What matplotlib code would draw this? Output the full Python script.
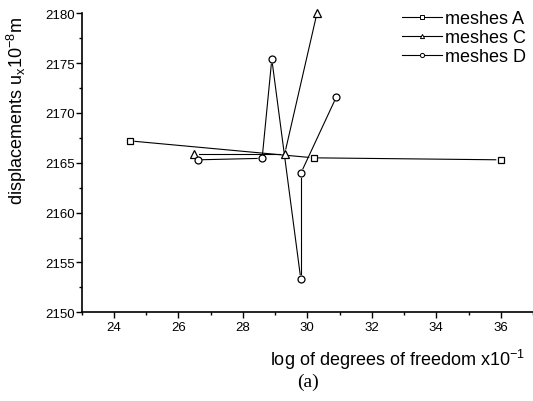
import numpy as np
import matplotlib.pyplot as plt
from matplotlib.ticker import MultipleLocator

plt.rcParams['font.family'] = ['Liberation Sans', 'DejaVu Sans']
plt.rcParams['mathtext.fontset'] = 'custom'
plt.rcParams['mathtext.rm'] = 'Liberation Sans'
plt.rcParams['mathtext.it'] = 'Liberation Sans'

# mesh refinement results
dof_A = [24.5, 30.2, 36.0]
ux_A = [2167.2, 2165.5, 2165.3]

dof_C = [26.5, 29.3, 30.3]
ux_C = [2165.9, 2165.9, 2180.0]

dof_D = [26.6, 28.6, 28.9, 29.8, 29.8, 30.9]
ux_D = [2165.3, 2165.45, 2175.4, 2153.3, 2163.95, 2171.6]

series = [
    ('meshes A', dof_A, ux_A, 's', 5),
    ('meshes C', dof_C, ux_C, '^', 6),
    ('meshes D', dof_D, ux_D, 'o', 5),
]

fig = plt.figure(figsize=(5.33, 4.02), dpi=100)
ax = fig.add_axes([0.153, 0.2206, 0.847, 0.7438])
ax.set_xlim(23, 37)
ax.set_ylim(2150, 2180)

for side in ['top', 'right']:
    ax.spines[side].set_visible(False)
ax.spines['left'].set_linewidth(1.2)
ax.spines['bottom'].set_linewidth(1.2)

ax.xaxis.set_major_locator(MultipleLocator(2))
ax.xaxis.set_minor_locator(MultipleLocator(1))
ax.yaxis.set_major_locator(MultipleLocator(5))
ax.yaxis.set_minor_locator(MultipleLocator(2.5))
ax.tick_params(which='major', direction='out', length=4, width=1, labelsize=9.5)
ax.tick_params(which='minor', direction='out', length=2.5, width=1)
ax.tick_params(axis='y', pad=1)
ax.tick_params(axis='x', pad=2)

# Origin style: connecting lines stop short of the markers
gap = 5.0
fig.canvas.draw()
to_px = ax.transData
to_data = ax.transData.inverted()
for label, xs, ys, mk, ms in series:
    pts = to_px.transform(np.column_stack([xs, ys]))
    for p0, p1 in zip(pts[:-1], pts[1:]):
        d = p1 - p0
        n = np.hypot(*d)
        if n <= 2 * gap:
            continue
        u = d / n
        seg = to_data.transform(np.array([p0 + u * gap, p1 - u * gap]))
        ax.plot(seg[:, 0], seg[:, 1], color='black', lw=0.8)
    ax.plot(xs, ys, linestyle='none', marker=mk, markersize=ms,
            markerfacecolor='white', markeredgecolor='black',
            markeredgewidth=0.9, clip_on=False, zorder=3)

# legend proxies with small markers
handles = [plt.Line2D([], [], color='black', lw=0.8, marker=mk, markersize=3,
                      markerfacecolor='white', markeredgewidth=0.7)
           for _, _, _, mk, _ in series]
ax.legend(handles, [s[0] for s in series], loc='upper right',
          bbox_to_anchor=(1.0, 1.035), frameon=False, fontsize=13,
          handlelength=2.2, handletextpad=0.15, labelspacing=0.12,
          borderaxespad=0.0)

fig.text(17 / 533, 1 - 111 / 402,
         r'displacements u$_\mathregular{x}$10$^\mathregular{-8}$m',
         rotation=90, ha='center', va='center', fontsize=13)
fig.text(525 / 533, 1 - 366 / 402,
         r'log of degrees of freedom x10$^\mathregular{-1}$',
         ha='right', va='baseline', fontsize=13)
fig.text(308 / 533, 1 - 382 / 402, '(a)', ha='center', va='center',
         fontsize=14, family='Liberation Serif')

fig.savefig('out.png', dpi=100)
